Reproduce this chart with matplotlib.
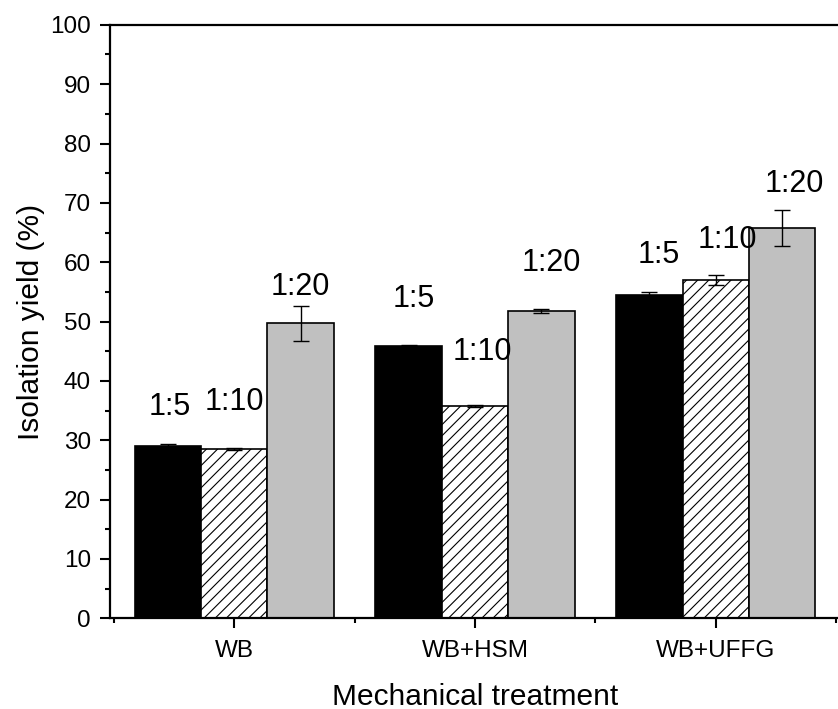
import numpy as np
import matplotlib
matplotlib.use("Agg")
import matplotlib.pyplot as plt
from matplotlib.ticker import MultipleLocator

plt.rcParams['font.family'] = ['Liberation Sans', 'DejaVu Sans']
plt.rcParams['hatch.linewidth'] = 0.8

groups = ["WB", "WB+HSM", "WB+UFFG"]
ratios = ["1:5", "1:10", "1:20"]
yield_15 = [29.1, 45.8, 54.5]
yield_110 = [28.5, 35.8, 57.0]
yield_120 = [49.7, 51.8, 65.8]
err_15 = [0.3, 0.2, 0.4]
err_110 = [0.15, 0.15, 0.9]
err_120 = [3.0, 0.3, 3.0]

# label placement (data units), tweaked by eye
label_y = [[34.3, 35.1, 54.5],
           [52.4, 43.5, 58.5],
           [59.9, 62.4, 71.8]]
label_dx = [[0.01, 0.0, 0.0],
            [0.02, 0.03, 0.04],
            [0.04, 0.05, 0.05]]

fig = plt.figure(figsize=(8.38, 7.09), dpi=100)
ax = fig.add_axes([0.131, 0.128, 0.872, 0.837])

x = np.arange(1, len(groups) + 1)
w = 0.276
series = [(yield_15, err_15, dict(color="black")),
          (yield_110, err_110, dict(color="white", hatch="///")),
          (yield_120, err_120, dict(color="#c0c0c0"))]
for i, (vals, errs, style) in enumerate(series):
    pos = x + (i - 1) * w
    ax.bar(pos, vals, width=w, edgecolor="black", linewidth=1.2, **style)
    ax.errorbar(pos, vals, yerr=errs, fmt="none", ecolor="black",
                elinewidth=1.0, capsize=6, capthick=1.0)
    for g in range(len(groups)):
        ax.text(pos[g] + label_dx[g][i], label_y[g][i], ratios[i],
                ha="center", va="baseline", fontsize=22)

ax.set_xlim(0.483, 3.518)
ax.set_ylim(0, 100)
ax.set_xticks(x)
ax.set_xticklabels(groups)
ax.xaxis.set_minor_locator(MultipleLocator(1, offset=0.5))
ax.yaxis.set_major_locator(MultipleLocator(10))
ax.yaxis.set_minor_locator(MultipleLocator(5))
ax.tick_params(which="major", direction="out", length=7.5, width=1.5,
               labelsize=17.5, pad=6)
ax.tick_params(which="minor", direction="out", length=3.5, width=1.5)
ax.tick_params(axis="x", which="major", pad=8)
for s in ax.spines.values():
    s.set_linewidth(1.6)

ax.set_xlabel("Mechanical treatment", fontsize=21.5, labelpad=15)
ax.set_ylabel("Isolation yield (%)", fontsize=21.5, labelpad=4)

fig.savefig("out.png", dpi=100)
